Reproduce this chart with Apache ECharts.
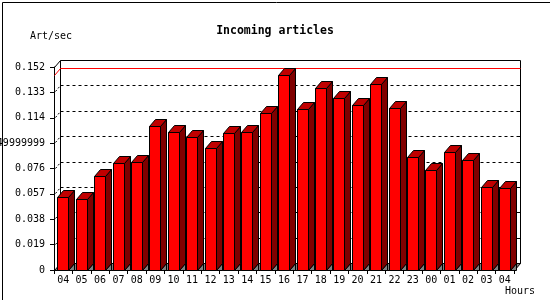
<!DOCTYPE html>
<html><head><meta charset="utf-8">
<script src="https://cdn.jsdelivr.net/npm/echarts@6/dist/echarts.min.js"></script>
<style>html,body{margin:0;padding:0;background:#fff}#c{width:550px;height:300px}</style>
</head><body><div id="c"></div>
<script>
const hours = ['04','05','06','07','08','09','10','11','12','13','14','15','16','17','18','19','20','21','22','23','00','01','02','03','04'];
const articlesPerSec = [0.0550,0.0530,0.0702,0.0800,0.0807,0.1077,0.1032,0.0995,0.0917,0.1025,0.1032,0.1175,0.1462,0.1205,0.1362,0.1287,0.1235,0.1392,0.1212,0.0845,0.0747,0.0882,0.0825,0.0622,0.0612];
const yTickValues = [0,0.019,0.038,0.057,0.076,0.095,0.114,0.133,0.152];
const yTickLabels = ['0','0.019','0.038','0.057','0.076','0.0949999999','0.114','0.133','0.152'];
const titleText = 'Incoming articles';
const yUnit = 'Art/sec';
const xUnit = 'Hours';

const DX = 6, DY = 7;
const FONT = '"DejaVu Sans Mono", monospace';
const maxVal = Math.max.apply(null, articlesPerSec);
const s = v => Math.round(v) + 0.5;

function renderFrame(params, api) {
  const cs = params.coordSys;
  const L = s(cs.x), R = s(cs.x + cs.width), T = s(cs.y), B = s(cs.y + cs.height);
  const ch = [];
  ch.push({type:'rect', shape:{x:L+DX, y:T-DY, width:R-L, height:B-T},
    style:{fill:'#fff', stroke:'#000', lineWidth:1}});
  yTickValues.forEach((v, i) => {
    if (i === 0 || i === yTickValues.length - 1) return;
    const y = s(api.coord([0, v])[1]);
    ch.push({type:'line', shape:{x1:L+DX, y1:y-DY, x2:R+DX, y2:y-DY},
      style:{stroke:'#000', lineWidth:1, lineDash:[3,3]}});
    ch.push({type:'line', shape:{x1:L+1, y1:y-1, x2:L+DX, y2:y-DY},
      style:{stroke:'#000', lineWidth:1, lineDash:[2,2]}});
    ch.push({type:'line', shape:{x1:R+DX-3, y1:y-DY, x2:R+DX, y2:y-DY},
      style:{stroke:'#000', lineWidth:1}});
  });
  const ym = s(api.coord([0, maxVal])[1]);
  ch.push({type:'polyline', shape:{points:[[L, ym],[L+DX, ym-DY],[R+DX, ym-DY]]},
    style:{stroke:'#ff0000', fill:null, lineWidth:1}});
  ch.push({type:'line', shape:{x1:L, y1:T, x2:L+DX, y2:T-DY}, style:{stroke:'#000', lineWidth:1}});
  ch.push({type:'polygon', shape:{points:[[L,B],[L+DX,B-DY],[R+DX,B-DY],[R,B]]},
    style:{fill:'#808080', stroke:'#000', lineWidth:1}});
  return {type:'group', children:ch};
}

function renderBar(params, api) {
  const i = api.value(0), v = api.value(1);
  const p = api.coord([i, v]);
  const p0 = api.coord([i, 0]);
  const band = api.size([1, 0])[0];
  const w = Math.round(band * 0.6);
  const xl = s(p[0] - band * 0.315), xr = xl + w;
  const yt = s(p[1]), yb = s(p0[1]);
  const st = {stroke:'#000', lineWidth:1};
  return {type:'group', children:[
    {type:'polygon', shape:{points:[[xr,yb],[xr+DX,yb-DY],[xr+DX,yb]]},
      style:Object.assign({fill:'#808080'}, st)},
    {type:'polygon', shape:{points:[[xr,yt],[xr+DX,yt-DY],[xr+DX,yb-DY],[xr,yb]]},
      style:Object.assign({fill:'#800000'}, st)},
    {type:'polygon', shape:{points:[[xl,yt],[xl+DX,yt-DY],[xr+DX,yt-DY],[xr,yt]]},
      style:Object.assign({fill:'#c00000'}, st)},
    {type:'rect', shape:{x:xl, y:yt, width:w, height:yb-yt},
      style:Object.assign({fill:'#ff0000'}, st)}
  ]};
}

const chart = echarts.init(document.getElementById('c'), null, {renderer:'canvas'});
chart.setOption({
  animation:false,
  backgroundColor:'#fff',
  title:{text:titleText, left:'center', top:20,
    textStyle:{fontFamily:FONT, fontSize:11.5, fontWeight:'bold', color:'#000'}},
  grid:{left:54, right:36, top:67, bottom:30, containLabel:false, outerBoundsMode:'none'},
  xAxis:{type:'category', data:hours, boundaryGap:true,
    axisLine:{lineStyle:{color:'#000', width:1}},
    axisTick:{show:true, interval:0, length:4, lineStyle:{color:'#000'}},
    axisLabel:{interval:0, fontFamily:FONT, fontSize:10, color:'#000', margin:5},
    splitLine:{show:false}},
  yAxis:{type:'value', min:0, max:0.152, interval:0.019,
    axisLine:{show:true, lineStyle:{color:'#000', width:1}},
    axisTick:{show:true, length:4, lineStyle:{color:'#000'}},
    axisLabel:{fontFamily:FONT, fontSize:10, color:'#000', margin:9,
      formatter:(v, idx) => yTickLabels[idx]},
    splitLine:{show:false}},
  graphic:[
    {type:'text', left:30, top:31, style:{text:yUnit, font:'10px ' + FONT, fill:'#000'}},
    {type:'text', left:505, top:286, style:{text:xUnit, font:'10px ' + FONT, fill:'#000'}},
    {type:'rect', left:0, top:0, shape:{x:0.5, y:0.5, width:548, height:299}, silent:true,
      style:{fill:null, stroke:'#000', lineWidth:1}, z:100}
  ],
  series:[
    {type:'custom', renderItem:renderFrame, data:[[0, 0]], z:1, silent:true},
    {type:'custom', renderItem:renderBar, z:3,
      data:articlesPerSec.map((v, i) => [i, v])}
  ]
});
</script></body></html>
